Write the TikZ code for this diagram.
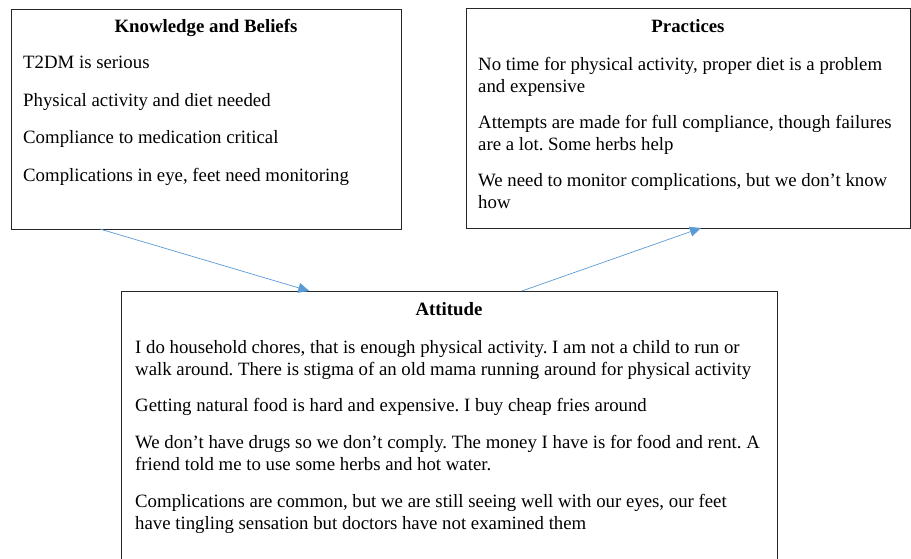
\documentclass[tikz,border=0pt]{standalone}
\usepackage{fontspec}
\setmainfont{Liberation Serif}
\usetikzlibrary{arrows.meta,calc}
\definecolor{arrowblue}{HTML}{5B9BD5}
\frenchspacing
\begin{document}
\begin{tikzpicture}[x=1pt,y=-1pt,
  box/.style={draw=black!85,line width=1pt,inner sep=0pt,outer sep=0pt},
  ln/.style={anchor=base west,inner sep=0pt,font=\fontsize{18.8}{22}\selectfont},
  ttl/.style={anchor=base,inner sep=0pt,font=\fontsize{18.8}{22}\selectfont\bfseries},
  con/.style={draw=arrowblue,line width=0.7pt,-{Triangle[length=11pt,width=10pt]}}]
\useasboundingbox (0,0) rectangle (911,558);
\clip (0,0) rectangle (911,558);
\fill[white] (0,0) rectangle (911,558);
% boxes
\node[box,minimum width=390pt,minimum height=220pt] (kb) at (206,119) {};
\node[box,minimum width=444pt,minimum height=220pt] (pr) at (688,118) {};
\node[box,minimum width=656pt,minimum height=309pt] (att) at (449,445.5) {};
% Knowledge and Beliefs
\node[ttl] (kbt) at (206,32) {Knowledge and Beliefs};
\node[ln] (kb1) at (23,68) {T2DM is serious};
\node[ln] (kb2) at (23,106) {Physical activity and diet needed};
\node[ln] (kb3) at (23,143.5) {Compliance to medication critical};
\node[ln] (kb4) at (23,181) {Complications in eye, feet need monitoring};
% Practices
\node[ttl] (prt) at (688,32) {Practices};
\node[ln] (pr1) at (478,70) {No time for physical activity, proper diet is a problem};
\node[ln] (pr2) at (478,92) {and expensive};
\node[ln] (pr3) at (478,128.5) {Attempts are made for full compliance, though failures};
\node[ln] (pr4) at (478,150) {are a lot. Some herbs help};
\node[ln] (pr5) at (478,186.5) {We need to monitor complications, but we don’t know};
\node[ln] (pr6) at (478,208.5) {how};
% Attitude
\node[ttl] (attt) at (449,315) {Attitude};
\node[ln] (at1) at (135,353) {I do household chores, that is enough physical activity. I am not a child to run or};
\node[ln] (at2) at (135,375) {walk around. There is stigma of an old mama running around for physical activity};
\node[ln] (at3) at (135,411) {Getting natural food is hard and expensive. I buy cheap fries around};
\node[ln] (at4) at (135,448) {We don’t have drugs so we don’t comply. The money I have is for food and rent. A};
\node[ln] (at5) at (135,470) {friend told me to use some herbs and hot water.};
\node[ln] (at6) at (135,507) {Complications are common, but we are still seeing well with our eyes, our feet};
\node[ln] (at7) at (135,529) {have tingling sensation but doctors have not examined them};
% connectors
\coordinate (c1s) at ($(kb.south west)!0.228!(kb.south east)$);
\coordinate (c1e) at ($(att.north west)!0.287!(att.north east)$);
\coordinate (c2s) at ($(att.north west)!0.611!(att.north east)$);
\coordinate (c2e) at ($(pr.south west)!0.529!(pr.south east)$);
\draw[con] (c1s) -- (c1e);
\draw[con] (c2s) -- (c2e);
\end{tikzpicture}
\end{document}
